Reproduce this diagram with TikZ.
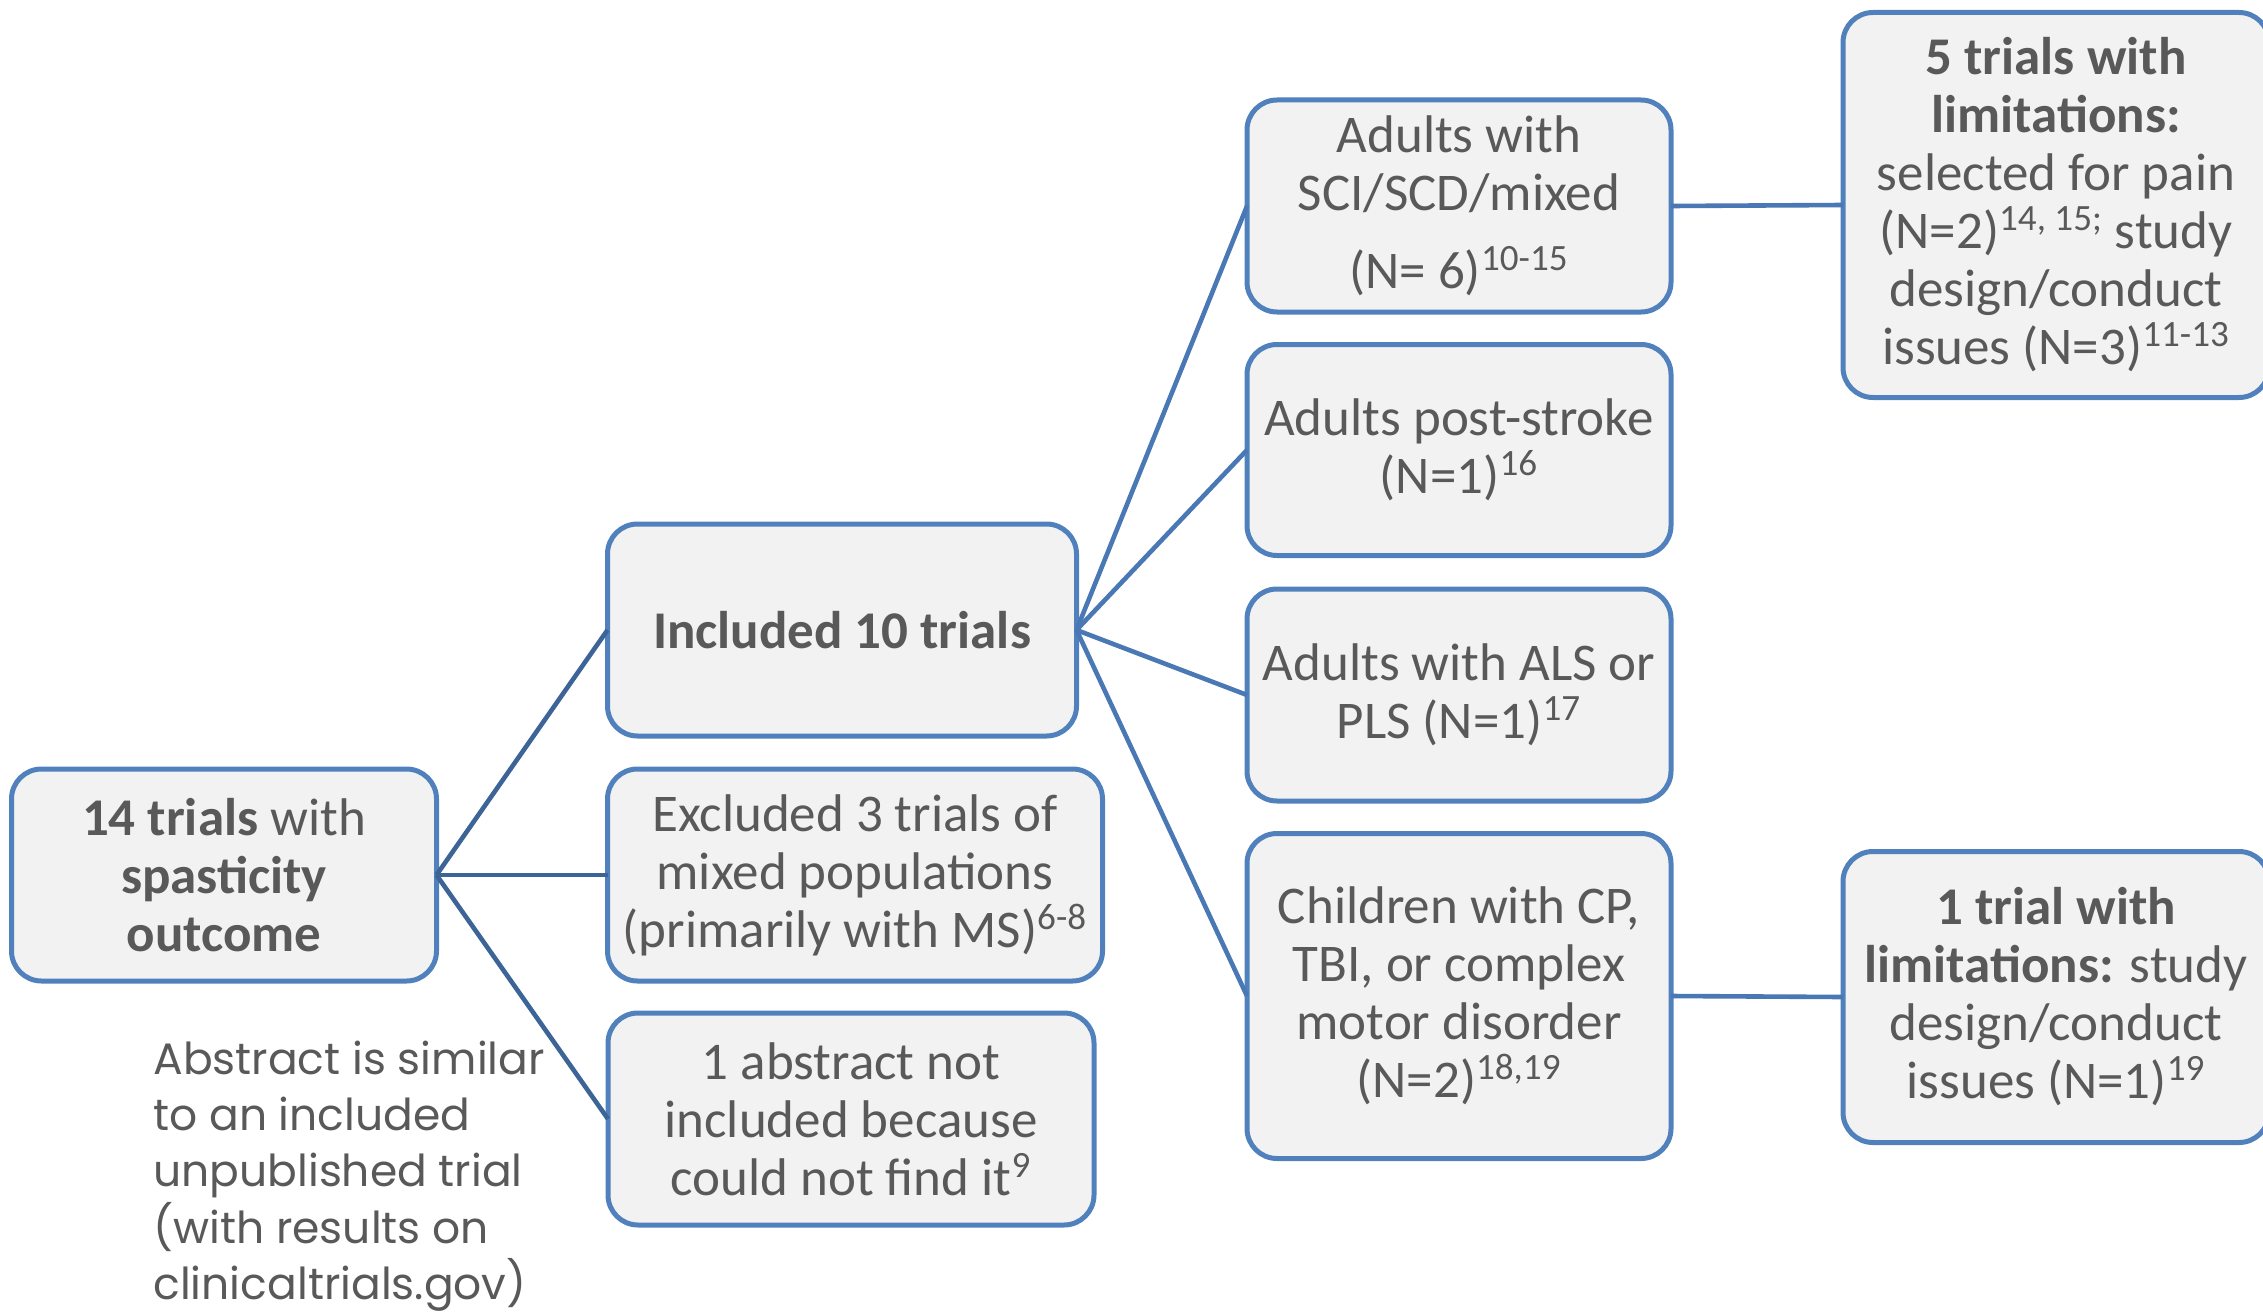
\documentclass[tikz,border=0pt]{standalone}
\usepackage{fontspec}
\setmainfont{Carlito}
\newfontfamily\gothic{Poppins}
\definecolor{txt}{HTML}{595959}
\definecolor{boxfill}{HTML}{F2F2F2}
\definecolor{boxline}{HTML}{5081BD}
\definecolor{linkA}{HTML}{3C6496}
\definecolor{linkB}{HTML}{4A78B4}
\tikzset{
  card/.style={draw=boxline, fill=boxfill, line width=2.5pt, rounded corners=15pt,
    align=center, text=txt, inner sep=0pt, outer sep=0pt,
    font=\fontsize{26.5}{29}\selectfont},
  linka/.style={draw=linkA, line width=2.3pt},
  linkb/.style={draw=linkB, line width=2.3pt},
}
\begin{document}
\begin{tikzpicture}[x=0.5pt,y=-0.5pt]
\useasboundingbox (0,0) rectangle (2263,1311);
\node[card, minimum width=212.5pt, minimum height=106pt] (a) at (224,875)
  {\textbf{14 trials} with\\ \textbf{spasticity}\\ \textbf{outcome}};
\node[card, minimum width=234.5pt, minimum height=106pt] (b) at (842,630)
  {\textbf{Included 10 trials}};
\node[card, minimum width=247.5pt, minimum height=106pt] (c) at (855,875)
  {Excluded 3 trials of\\ mixed populations\\ (primarily with MS)\textsuperscript{6-8}};
\node[card, minimum width=243pt, minimum height=106pt] (d) at (851,1119)
  {1 abstract not\\ included because\\ could not find it\textsuperscript{9}};
\node[card, minimum width=212pt, minimum height=106pt] (e) at (1459,206)
  {Adults with\\ SCI/SCD/mixed\\[10pt] (N= 6)\textsuperscript{10-15}};
\node[card, minimum width=212pt, minimum height=105.5pt] (f) at (1459,450)
  {Adults post-stroke\\ (N=1)\textsuperscript{16}};
\node[card, minimum width=212pt, minimum height=106pt] (g) at (1459,695)
  {Adults with ALS or\\ PLS (N=1)\textsuperscript{17}};
\node[card, minimum width=212pt, minimum height=162.5pt] (h) at (1459,996)
  {Children with CP,\\ TBI, or complex\\ motor disorder\\ (N=2)\textsuperscript{18,19}};
\node[card, minimum width=213pt, minimum height=192.5pt] (i) at (2056,205)
  {\textbf{5 trials with}\\ \textbf{limitations:}\\ selected for pain\\ (N=2)\textsuperscript{14, 15;} study\\ design/conduct\\ issues (N=3)\textsuperscript{11-13}};
\node[card, minimum width=213pt, minimum height=145.5pt] (j) at (2056,997)
  {\textbf{1 trial with}\\ \textbf{limitations:} study\\ design/conduct\\ issues (N=1)\textsuperscript{19}};
\node[anchor=west, align=left, text=txt, inner sep=0pt,
  font=\gothic\fontsize{22}{28.2}\selectfont] (note) at (153,1176)
  {Abstract is similar\\ to an included\\ unpublished trial\\ (with results on\\ clinicaltrials.gov)};
\draw[linka] (a.east) -- (b.west);
\draw[linka] (a.east) -- (c.west);
\draw[linka] (a.east) -- (d.west);
\draw[linkb] (b.east) -- (e.west);
\draw[linkb] (b.east) -- (f.west);
\draw[linkb] (b.east) -- (g.west);
\draw[linkb] (b.east) -- (h.west);
\draw[linkb] (e.east) -- (i.west);
\draw[linkb] (h.east) -- (j.west);
\end{tikzpicture}
\end{document}
